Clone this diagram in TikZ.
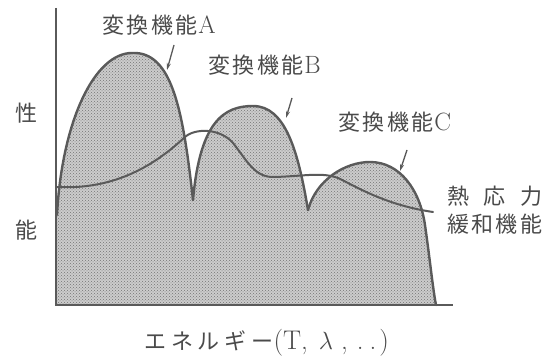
\documentclass[tikz,border=0pt]{standalone}
\usepackage{fontspec}
\newfontfamily\jp{Noto Sans CJK JP}[LetterSpace=11]
\newfontfamily\jpwide{Noto Sans CJK JP}[LetterSpace=22]
\newcommand\latn{\fontsize{25}{28}\selectfont}
\newcommand\latnb{\fontsize{27}{30}\selectfont}
\usetikzlibrary{patterns,arrows.meta}
\definecolor{ink}{HTML}{5A5A5A}
\definecolor{txt}{HTML}{4A4A4A}
\tikzset{
  curve/.style={draw=ink, line width=2.4pt, line join=round, line cap=round},
  axisline/.style={draw=ink, line width=1.8pt},
  lbl/.style={text=txt, font=\fontsize{22}{26}\selectfont, inner sep=0pt},
  ptr/.style={draw=ink, line width=1.3pt, -{Stealth[length=7pt,width=4pt]}},
}
\begin{document}
\begin{tikzpicture}[x=1pt,y=-1pt]
\useasboundingbox (0,0) rectangle (550,358);
% shaded area
\path[fill=gray!40, postaction={pattern=crosshatch dots, pattern color=gray!90!black}]
  (57,305) -- (57,215)
  .. controls (62,120) and (95,53) .. (132,53)
  .. controls (172,51) and (183,110) .. (193,200)
  .. controls (200,120) and (225,106) .. (253,106)
  .. controls (285,106) and (298,150) .. (308,210)
  .. controls (316,180) and (345,162) .. (370,162)
  .. controls (400,162) and (420,190) .. (425,225)
  .. controls (430,260) and (433,290) .. (436,305)
  -- cycle;
% outlines
\draw[curve] (57,215) .. controls (62,120) and (95,53) .. (132,53)
  .. controls (172,51) and (183,110) .. (193,200);
\draw[curve] (193,200) .. controls (200,120) and (225,106) .. (253,106)
  .. controls (285,106) and (298,150) .. (308,210);
\draw[curve] (308,210) .. controls (316,180) and (345,162) .. (370,162)
  .. controls (400,162) and (420,190) .. (425,225)
  .. controls (430,260) and (433,290) .. (436,305);
% thermal stress relaxation curve
\draw[curve, line width=2pt] (57,187) .. controls (115,190) and (155,165) .. (185,137)
  .. controls (195,128) and (220,128) .. (233,143)
  .. controls (248,162) and (255,178) .. (275,177)
  .. controls (305,176) and (322,172) .. (338,178)
  .. controls (355,186) and (385,205) .. (433,212);
% axes
\coordinate (top) at (56,8);
\coordinate (origin) at (56,305);
\coordinate (xend) at (453,305);
\draw[axisline] (top) -- (origin) -- (xend);
% pointers
\coordinate (a1) at (174,45); \coordinate (a2) at (167,70);
\coordinate (b1) at (292,98); \coordinate (b2) at (286,118);
\coordinate (c1) at (407,150); \coordinate (c2) at (400,171);
\draw[ptr] (a1) -- (a2);
\draw[ptr] (b1) -- (b2);
\draw[ptr] (c1) -- (c2);
% labels
\node[lbl, anchor=west] (la) at (102,25) {{\jp 変換機能}\hspace{1pt}{\latn A}};
\node[lbl, anchor=west] (lb) at (208,65) {{\jp 変換機能}\hspace{1pt}{\latn B}};
\node[lbl, anchor=west] (lc) at (338,122) {{\jp 変換機能}\hspace{1pt}{\latn C}};
\node[lbl] (ys) at (27,113) {\jp 性};
\node[lbl] (yn) at (27,230) {\jp 能};
\node[lbl, anchor=west] (t1) at (447,196) {\makebox[95pt][s]{\jp 熱\hfill 応\hfill 力}};
\node[lbl, anchor=west] (t2) at (447,224) {\makebox[95pt][s]{\jp 緩\hfill 和\hfill 機\hfill 能}};
\node[lbl, anchor=west] (xl) at (144,343) {{\jpwide エネルギー}{\latnb (T,\hspace{11pt}$\lambda$\hspace{8pt},\hspace{9pt}.\hspace{6pt}.\hspace{3pt})}};
\end{tikzpicture}
\end{document}
